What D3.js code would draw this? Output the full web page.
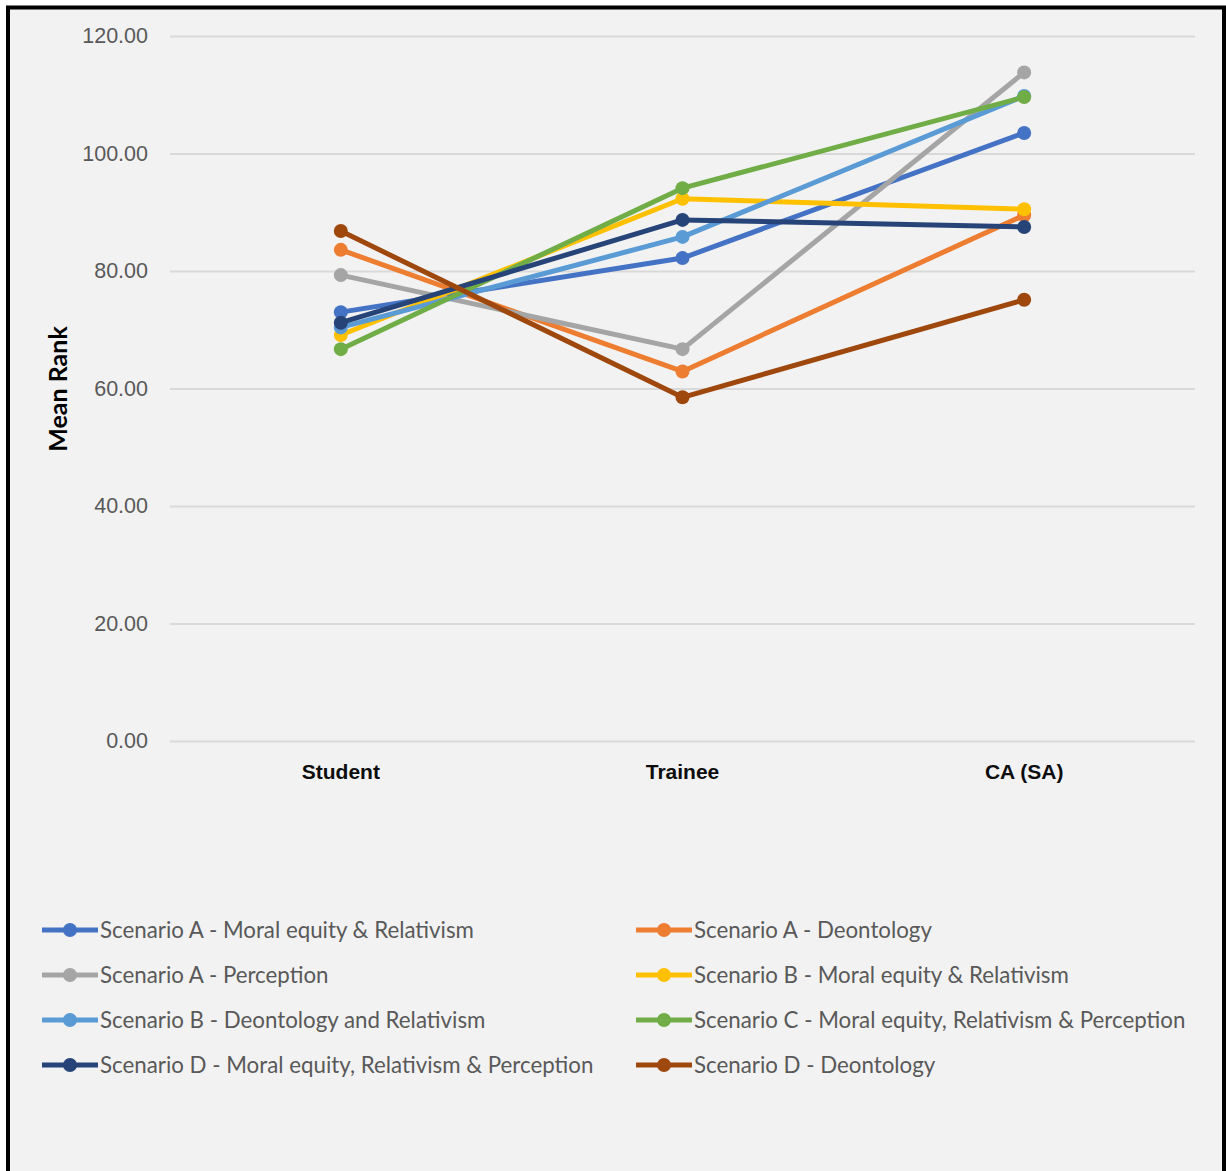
<!DOCTYPE html>
<html>
<head>
<meta charset="utf-8">
<script src="https://cdn.jsdelivr.net/npm/d3@7"></script>
<style>
  body { margin: 0; background: #ffffff; }
  svg { display: block; font-family: Lato, "Noto Sans", sans-serif; }
</style>
</head>
<body>
<div id="chart"></div>
<script>
// categories and series
var stages = ["Student", "Trainee", "CA (SA)"];
var seriesNames = [
  "Scenario A - Moral equity & Relativism",
  "Scenario A - Deontology",
  "Scenario A - Perception",
  "Scenario B - Moral equity & Relativism",
  "Scenario B - Deontology and Relativism",
  "Scenario C - Moral equity, Relativism & Perception",
  "Scenario D - Moral equity, Relativism & Perception",
  "Scenario D - Deontology"
];
var aMoral      = [73.0, 82.2, 103.5];
var aDeont      = [83.6, 62.9, 89.5];
var aPerception = [79.3, 66.7, 113.8];
var bMoral      = [69.1, 92.3, 90.5];
var bDeont      = [70.4, 85.8, 109.8];
var cMoral      = [66.7, 94.1, 109.6];
var dMoral      = [71.2, 88.7, 87.5];
var dDeont      = [86.8, 58.5, 75.1];
var yTicks = [0, 20, 40, 60, 80, 100, 120];

var seriesValues = [aMoral, aDeont, aPerception, bMoral, bDeont, cMoral, dMoral, dDeont];
var colors = ["#4472C4", "#ED7D31", "#A5A5A5", "#FFC000", "#5B9BD5", "#70AD47", "#264478", "#9E480E"];

var width = 1226;
var height = 1171;

var svg = d3.select("#chart").append("svg")
  .attr("width", width)
  .attr("height", height);

// chart area background and frame (no bottom edge visible)
svg.append("rect")
  .attr("x", 8).attr("y", 7.5)
  .attr("width", 1216).attr("height", height)
  .attr("fill", "#f2f2f2");
svg.append("path")
  .attr("d", "M8,1171 L8,7.5 L1224,7.5 L1224,1171")
  .attr("fill", "none")
  .attr("stroke", "#000")
  .attr("stroke-width", 4);

var x = d3.scaleBand().domain(stages).range([170, 1195]);
var y = d3.scaleLinear().domain([0, 120]).range([741, 36]);

// y axis with gridlines
var yAxis = svg.append("g")
  .attr("transform", "translate(170,0)")
  .call(d3.axisLeft(y).tickValues(yTicks).tickFormat(d3.format(".2f")).tickSize(-1025).tickPadding(22));
yAxis.select(".domain").remove();
yAxis.selectAll(".tick line").attr("stroke", "#d9d9d9").attr("stroke-width", 2);
yAxis.selectAll(".tick text")
  .attr("fill", "#595959")
  .style("font-size", "21.5px");

// category labels
var xAxis = svg.append("g")
  .attr("transform", "translate(0,741)")
  .call(d3.axisBottom(x).tickSize(0).tickPadding(23));
xAxis.select(".domain").remove();
xAxis.selectAll(".tick text")
  .attr("fill", "#0d0d0d")
  .style("font-size", "21px")
  .style("font-weight", "bold");

svg.append("text")
  .attr("transform", "translate(67,389) rotate(-90)")
  .attr("text-anchor", "middle")
  .attr("fill", "#000")
  .style("font-size", "25px")
  .style("font-weight", "bold")
  .text("Mean Rank");

var line = d3.line()
  .x(function(d, i) { return x(stages[i]) + x.bandwidth() / 2; })
  .y(function(d) { return y(d); });

seriesValues.forEach(function(vals, k) {
  var g = svg.append("g");
  g.append("path")
    .attr("d", line(vals))
    .attr("fill", "none")
    .attr("stroke", colors[k])
    .attr("stroke-width", 5)
    .attr("stroke-linejoin", "round");
  g.selectAll("circle").data(vals).enter().append("circle")
    .attr("cx", function(d, i) { return x(stages[i]) + x.bandwidth() / 2; })
    .attr("cy", function(d) { return y(d); })
    .attr("r", 7)
    .attr("fill", colors[k]);
});

// legend, two columns
var legend = svg.append("g");
seriesNames.forEach(function(name, k) {
  var col = k % 2;
  var row = Math.floor(k / 2);
  var lx = col === 0 ? 42 : 636;
  var ly = 930 + row * 45;
  var item = legend.append("g").attr("transform", "translate(" + lx + "," + ly + ")");
  item.append("line")
    .attr("x1", 0).attr("x2", 56)
    .attr("y1", 0).attr("y2", 0)
    .attr("stroke", colors[k])
    .attr("stroke-width", 5);
  item.append("circle")
    .attr("cx", 28).attr("cy", 0).attr("r", 7)
    .attr("fill", colors[k]);
  item.append("text")
    .attr("x", 58).attr("y", 0)
    .attr("dy", "0.35em")
    .attr("fill", "#595959")
    .style("font-size", "22.3px")
    .text(name);
});
</script>
</body>
</html>
